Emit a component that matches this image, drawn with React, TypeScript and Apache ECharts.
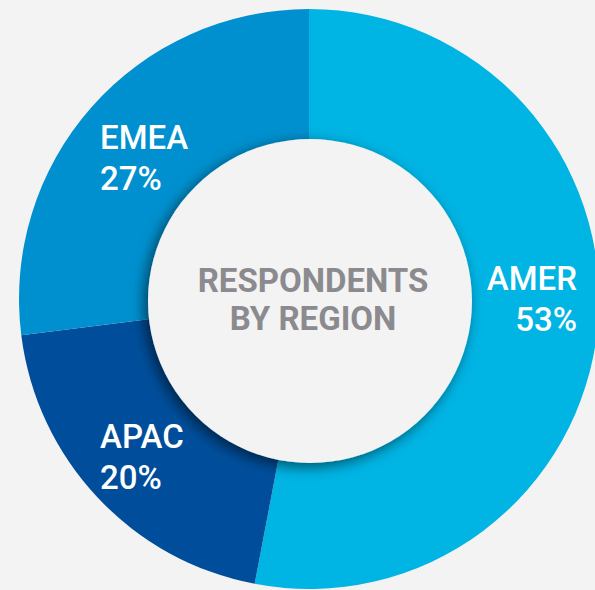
import React, { useEffect, useRef } from "react";
import * as echarts from "echarts";

const regions = ["AMER", "APAC", "EMEA"];
const shares = [53, 20, 27];
const colors = ["#00b4e4", "#004e9b", "#0090cf"];
const centerTitle = "RESPONDENTS\nBY REGION";

// label anchor positions (layout only)
const labelPos = [
  { x: 577, y: 258, align: "right" },
  { x: 100, y: 416, align: "left" },
  { x: 100, y: 117, align: "left" },
];

export default function App() {
  const ref = useRef<HTMLDivElement>(null);
  useEffect(() => {
    if (!ref.current) return;
    const chart = echarts.init(ref.current, null, { renderer: "svg" });
    chart.setOption({
      animation: false,
      backgroundColor: "#f3f3f3",
      title: {
        text: centerTitle,
        left: 308,
        top: 256,
        textAlign: "center",
        z: 20,
        textStyle: {
          color: "#8b8a8f",
          fontFamily: "Roboto",
          fontWeight: "bold",
          fontSize: 33,
          lineHeight: 38,
        },
      },
      graphic: [
        {
          type: "circle",
          z: 10,
          shape: { cx: 310, cy: 301, r: 162 },
          style: {
            fill: "#f3f3f3",
            shadowBlur: 14,
            shadowOffsetX: -4,
            shadowOffsetY: 4,
            shadowColor: "rgba(0,0,0,0.55)",
          },
        },
      ],
      series: [
        {
          type: "pie",
          center: [309, 299],
          radius: [140, 290],
          startAngle: 90,
          clockwise: true,
          silent: true,
          avoidLabelOverlap: false,
          itemStyle: { borderWidth: 0 },
          label: {
            show: true,
            position: "inside",
            formatter: (p: any) => `${p.name}\n${p.value}%`,
            color: "#ffffff",
            fontFamily: "Roboto",
            fontWeight: 500,
            fontSize: 33,
            lineHeight: 41,
            textBorderWidth: 0,
          },
          labelLine: { show: false },
          labelLayout: (params: any) => {
            const p = labelPos[params.dataIndex];
            return { x: p.x, y: p.y, align: p.align, verticalAlign: "top" };
          },
          data: regions.map((name, i) => ({
            name,
            value: shares[i],
            itemStyle: { color: colors[i] },
            label: { align: labelPos[i].align },
          })),
        },
      ],
    });
    return () => chart.dispose();
  }, []);
  return (
    <div
      ref={ref}
      style={{ position: "fixed", left: 0, top: 0, width: 595, height: 590 }}
    />
  );
}
